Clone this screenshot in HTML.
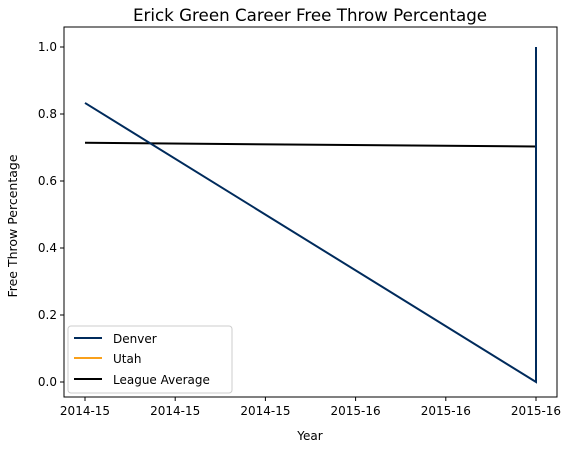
<!DOCTYPE html>
<html><head><meta charset="utf-8"><style>
body{margin:0;background:#fff;}
svg{font-family:"DejaVu Sans","Liberation Sans",sans-serif;}
</style></head><body>
<svg id="chart" width="573" height="453" viewBox="0 0 573 453">
<rect x="0" y="0" width="573" height="453" fill="#fff"/>
<text x="310" y="21" text-anchor="middle" font-size="16.7">Erick Green Career Free Throw Percentage</text>
<g id="plot"></g>
<text x="310" y="440" text-anchor="middle" font-size="12">Year</text>
<text transform="translate(17,226) rotate(-90)" text-anchor="middle" font-size="12.5">Free Throw Percentage</text>
<g>
<rect x="68" y="326" width="164" height="67" rx="3" fill="#fff" fill-opacity="0.8" stroke="#ccc"/>
<line x1="74" y1="338" x2="102" y2="338" stroke="#002b5c" stroke-width="2"/>
<text x="113" y="343" font-size="12">Denver</text>
<line x1="74" y1="358" x2="102" y2="358" stroke="#f9a01b" stroke-width="2"/>
<text x="113" y="363" font-size="12">Utah</text>
<line x1="74" y1="379" x2="102" y2="379" stroke="#000" stroke-width="2"/>
<text x="113" y="384" font-size="12">League Average</text>
</g>
</svg>
<script>
const xTickLabels=["2014-15","2014-15","2014-15","2015-16","2015-16","2015-16"];
const yTicks=[0.0,0.2,0.4,0.6,0.8,1.0];
const denverX=[0,5,5];
const denverY=[0.833,0.0,1.0];
const utahX=[5];
const utahY=[1.0];
const leagueX=[0,5];
const leagueY=[0.714,0.703];
const L=64,R=557,T=27,B=397;
function sx(v){return 85+v*(536-85)/5;}
function sy(v){return 382-v*(382-47);}
const NS="http://www.w3.org/2000/svg";
const g=document.getElementById('plot');
function el(t,a){const e=document.createElementNS(NS,t);for(const k in a)e.setAttribute(k,a[k]);g.appendChild(e);return e;}
const frame=el('rect',{x:L,y:T,width:R-L,height:B-T,fill:'none',stroke:'#000','stroke-width':1});


xTickLabels.forEach((lab,i)=>{
 const x=sx(i);
 el('line',{x1:x,y1:B,x2:x,y2:B+4,stroke:'#000'});
 const t=el('text',{x:x,y:B+18,'text-anchor':'middle','font-size':12});
 t.textContent=lab;
 
 
});
yTicks.forEach(v=>{
 const y=sy(v);
 el('line',{x1:L-4,y1:y,x2:L,y2:y,stroke:'#000'});
 const t=el('text',{x:L-7,y:y+4,'text-anchor':'end','font-size':12});
 t.textContent=v.toFixed(1);
 
 
});
function line(xs,ys,color,name){
 const p=el('polyline',{points:xs.map((x,i)=>sx(x)+','+sy(ys[i])).join(' '),fill:'none',stroke:color,'stroke-width':2});
 
 
}
line(utahX,utahY,'#f9a01b','utah-line');
line(leagueX,leagueY,'#000','league-average-line');
line(denverX,denverY,'#002b5c','denver-line');
</script>
</body></html>
